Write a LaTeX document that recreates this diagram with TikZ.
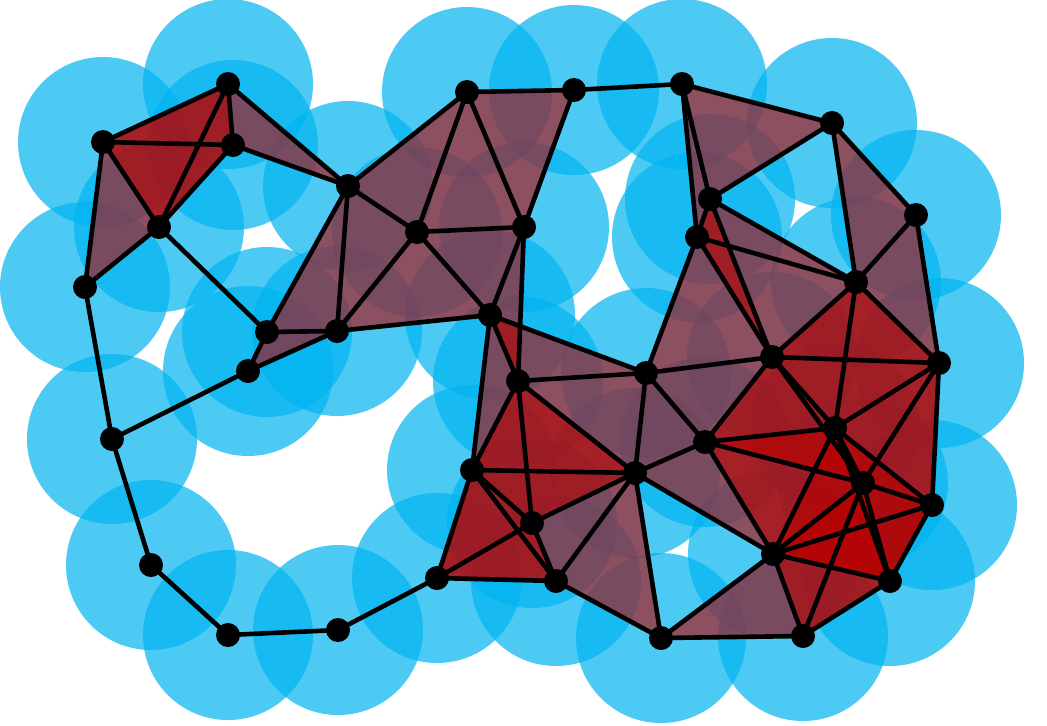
\documentclass[tikz,border=0pt]{standalone}
\usepackage{xcolor}
\usepackage{tikz}

\definecolor{diskblue}{RGB}{0,180,240}
\definecolor{simplexred}{RGB}{185,0,0}

\tikzset{
  disk/.style={fill=diskblue, fill opacity=0.7},
  simplex/.style={fill=simplexred, fill opacity=0.6},
  edgeline/.style={draw=black, line width=2.3pt},
  dot/.style={circle, fill=black, inner sep=0pt, minimum size=12pt}
}

\begin{document}
\begin{tikzpicture}[x=0.5pt, y=-0.5pt]
    \useasboundingbox (0,0) rectangle (1047,725);

    \foreach \n/\x/\y in {1/228/84, 2/103/142, 3/233/145, 4/159/227, 5/85/287,
        6/348/186, 7/267/332, 8/337/331, 9/248/371, 10/112/439, 11/151/565,
        12/228/635, 13/338/630, 14/437/578, 15/467/92, 16/574/90, 17/682/84,
        18/417/232, 19/524/227, 20/490/315, 21/518/381, 22/472/470, 23/532/523,
        24/556/581, 25/635/473, 26/646/373, 27/661/638, 28/803/636, 29/832/123,
        30/710/199, 31/697/237, 32/916/215, 33/856/282, 34/772/357, 35/939/363,
        36/705/442, 37/835/428, 38/863/483, 39/932/505, 40/773/554, 41/890/581}
        \coordinate (p\n) at (\x,\y);

    \foreach \n in {1,...,41}
        \fill[disk] (p\n) circle[radius=85];

    \foreach \a/\b/\c in {1/2/3, 1/2/4, 1/3/4, 2/3/4, 2/4/5, 1/3/6, 6/7/8, 7/8/9,
        6/8/18, 6/15/18, 8/18/20, 15/18/19, 15/16/19, 18/19/20, 19/20/21,
        20/21/22, 20/21/26, 21/22/23, 21/22/25, 21/23/25, 22/23/25, 14/22/23,
        14/22/24, 14/23/24, 22/23/24, 23/24/25, 24/25/27, 21/25/26, 25/26/36,
        25/36/40, 26/34/36, 26/31/34, 30/31/34, 30/31/33, 31/33/34, 17/30/31,
        17/29/30, 29/32/33, 32/33/35, 33/34/35, 33/34/37, 33/35/37, 34/35/37,
        34/36/37, 34/36/38, 34/37/38, 35/37/38, 35/37/39, 35/38/39, 37/38/39,
        36/37/38, 36/37/40, 36/38/40, 37/38/40, 38/39/40, 37/38/41, 37/39/41,
        37/40/41, 38/39/41, 38/40/41, 39/40/41, 28/38/40, 28/38/41, 28/40/41,
        27/28/40}
        \fill[simplex] (p\a) -- (p\b) -- (p\c) -- cycle;

    \foreach \a/\b in {1/2, 1/3, 1/4, 1/6, 2/3, 2/4, 2/5, 3/4, 3/6, 4/5, 4/7,
        5/10, 6/7, 6/8, 6/15, 6/18, 7/8, 7/9, 8/9, 8/18, 8/20, 9/10, 10/11,
        11/12, 12/13, 13/14, 14/22, 14/23, 14/24, 15/16, 15/18, 15/19, 16/17,
        16/19, 17/29, 17/30, 17/31, 18/19, 18/20, 19/20, 19/21, 20/21, 20/22,
        20/26, 21/22, 21/23, 21/25, 21/26, 22/23, 22/24, 22/25, 23/24, 23/25,
        24/25, 24/27, 25/26, 25/27, 25/36, 25/40, 26/31, 26/34, 26/36, 27/28,
        27/40, 28/38, 28/40, 28/41, 29/30, 29/32, 29/33, 30/31, 30/33, 30/34,
        31/33, 31/34, 32/33, 32/35, 33/34, 33/35, 33/37, 34/35, 34/36, 34/37,
        34/38, 35/37, 35/38, 35/39, 36/37, 36/38, 36/40, 37/38, 37/39, 37/40,
        37/41, 38/39, 38/40, 38/41, 39/40, 39/41, 40/41}
        \draw[edgeline] (p\a) -- (p\b);

    \foreach \n in {1,...,41}
        \node[dot] (v\n) at (p\n) {};
\end{tikzpicture}
\end{document}
